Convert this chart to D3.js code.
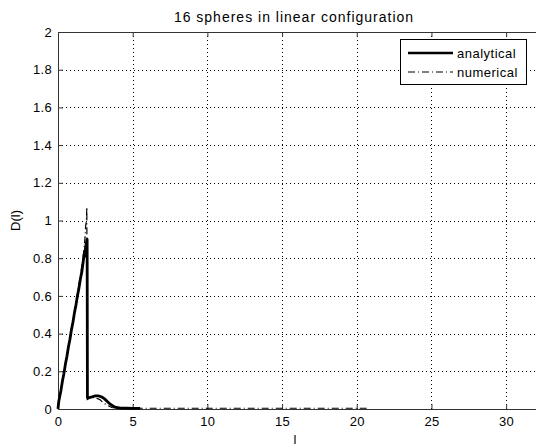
<!DOCTYPE html>
<html><head><meta charset="utf-8">
<script src="https://cdn.jsdelivr.net/npm/d3@7"></script>
<style>
body{margin:0;background:#fff;}
text{font-family:Arial,"Liberation Sans",Helvetica,sans-serif;fill:#000;}
</style></head>
<body><svg id="c" width="536" height="448"></svg>
<script>
const title = "16 spheres in linear configuration";
const xLabel = "l";
const yLabel = "D(l)";
const xTicks = [0,5,10,15,20,25,30];
const yTicks = [0,0.2,0.4,0.6,0.8,1,1.2,1.4,1.6,1.8,2];
const seriesNames = ["analytical","numerical"];

const lAnalytical = [0,0.05,0.1,0.2,0.3,0.4,0.5,0.6,0.7,0.8,0.9,1.0,1.1,1.2,1.3,1.4,1.5,1.6,1.7,1.75,1.8,1.85,1.9,1.95,1.97,2.1,2.3,2.5,2.7,2.9,3.1,3.3,3.5,3.7,3.9,4.2,4.6,5,5.5];
const dAnalytical = [0,0.04,0.06,0.1,0.15,0.19,0.24,0.28,0.33,0.37,0.42,0.46,0.51,0.55,0.6,0.64,0.69,0.73,0.79,0.82,0.81,0.86,0.88,0.9,0.06,0.06,0.065,0.07,0.07,0.065,0.055,0.04,0.025,0.015,0.008,0.005,0.004,0.003,0.003];

const lNumerical = [0,0.1,0.2,0.4,0.6,0.8,1.0,1.2,1.4,1.6,1.7,1.8,1.85,1.9,1.93,1.96,2.2,2.5,2.8,3.0,3.3,3.6,3.9,4.5,5,7,9,11,13,15,17,19,20.7];
const dNumerical = [0,0.05,0.1,0.2,0.29,0.38,0.47,0.56,0.66,0.76,0.82,0.9,0.97,1.0,1.07,0.05,0.06,0.06,0.05,0.035,0.02,0.008,0.005,0.004,0.004,0.004,0.004,0.004,0.004,0.004,0.004,0.004,0.004];

const svg = d3.select("#c");
const L = 58, R = 536, T = 32, B = 409;
const x = d3.scaleLinear().domain([0,32]).range([L,R]);
const y = d3.scaleLinear().domain([0,2]).range([B,T]);

// grid
const g = svg.append("g");
g.selectAll(".gx").data(xTicks.filter(d=>d>0)).enter().append("line")
  .attr("x1",d=>Math.round(x(d))+0.5).attr("x2",d=>Math.round(x(d))+0.5).attr("y1",T).attr("y2",B)
  .attr("stroke","#000").attr("stroke-width",1).attr("stroke-dasharray","1,3");
g.selectAll(".gy").data(yTicks.filter(d=>d>0&&d<2)).enter().append("line")
  .attr("x1",L).attr("x2",R).attr("y1",d=>Math.round(y(d))+0.5).attr("y2",d=>Math.round(y(d))+0.5)
  .attr("stroke","#000").attr("stroke-width",1).attr("stroke-dasharray","1,3");

// axes
const xAxis = d3.axisBottom(x).tickValues(xTicks).tickSize(-5).tickPadding(8).tickFormat(d3.format("d"));
const xa = svg.append("g").attr("transform",`translate(0,${B})`).call(xAxis);
const xTop = d3.axisTop(x).tickValues(xTicks).tickSize(-5).tickFormat("");
const xt = svg.append("g").attr("transform",`translate(0,${T})`).call(xTop);
const yAxis = d3.axisLeft(y).tickValues(yTicks).tickSize(-5).tickPadding(6).tickFormat(d=>String(d));
const ya = svg.append("g").attr("transform",`translate(${L},0)`).call(yAxis);
[xa,xt,ya].forEach(a=>{
  a.selectAll("path,line").attr("stroke","#333");
  a.selectAll("text").style("font-size","13px").style("letter-spacing","0.3px").attr("fill","#000");
});

// lines
const lineA = d3.line().x((d,i)=>x(lAnalytical[i])).y(d=>y(d));
svg.append("path").datum(dAnalytical).attr("d",lineA)
  .attr("fill","none").attr("stroke","#000").attr("stroke-width",2.8).attr("stroke-linejoin","round");
const lineN = d3.line().x((d,i)=>x(lNumerical[i])).y(d=>y(d));
svg.append("path").datum(dNumerical).attr("d",lineN)
  .attr("fill","none").attr("stroke","#000").attr("stroke-width",1.2).attr("stroke-dasharray","7,3,1,3");

// title & labels
svg.append("text").attr("x",(L+R)/2-3).attr("y",22).attr("text-anchor","middle")
  .style("font-size","14px").style("letter-spacing","1px").text(title);
svg.append("text").attr("x",(L+R)/2-2).attr("y",444).attr("text-anchor","middle").style("font-size","13px").text(xLabel);
svg.append("text").attr("transform",`translate(20,${(T+B)/2}) rotate(-90)`).attr("text-anchor","middle").style("font-size","13px").text(yLabel);

// legend
const lg = svg.append("g");
lg.append("rect").attr("x",400.5).attr("y",39.5).attr("width",126).attr("height",45)
  .attr("fill","#fff").attr("stroke","#000").attr("stroke-width",1);
const rows = [{name:seriesNames[0],w:2.5,dash:null},{name:seriesNames[1],w:1.2,dash:"7,3,1,3"}];
rows.forEach((r,i)=>{
  const yy = 53 + i*19;
  const ln = lg.append("line").attr("x1",408).attr("x2",453).attr("y1",yy).attr("y2",yy)
    .attr("stroke","#000").attr("stroke-width",r.w);
  if(r.dash) ln.attr("stroke-dasharray",r.dash);
  lg.append("text").attr("x",457).attr("y",yy+4.5).style("font-size","13px").style("letter-spacing","0.5px").text(r.name);
});
</script></body></html>
